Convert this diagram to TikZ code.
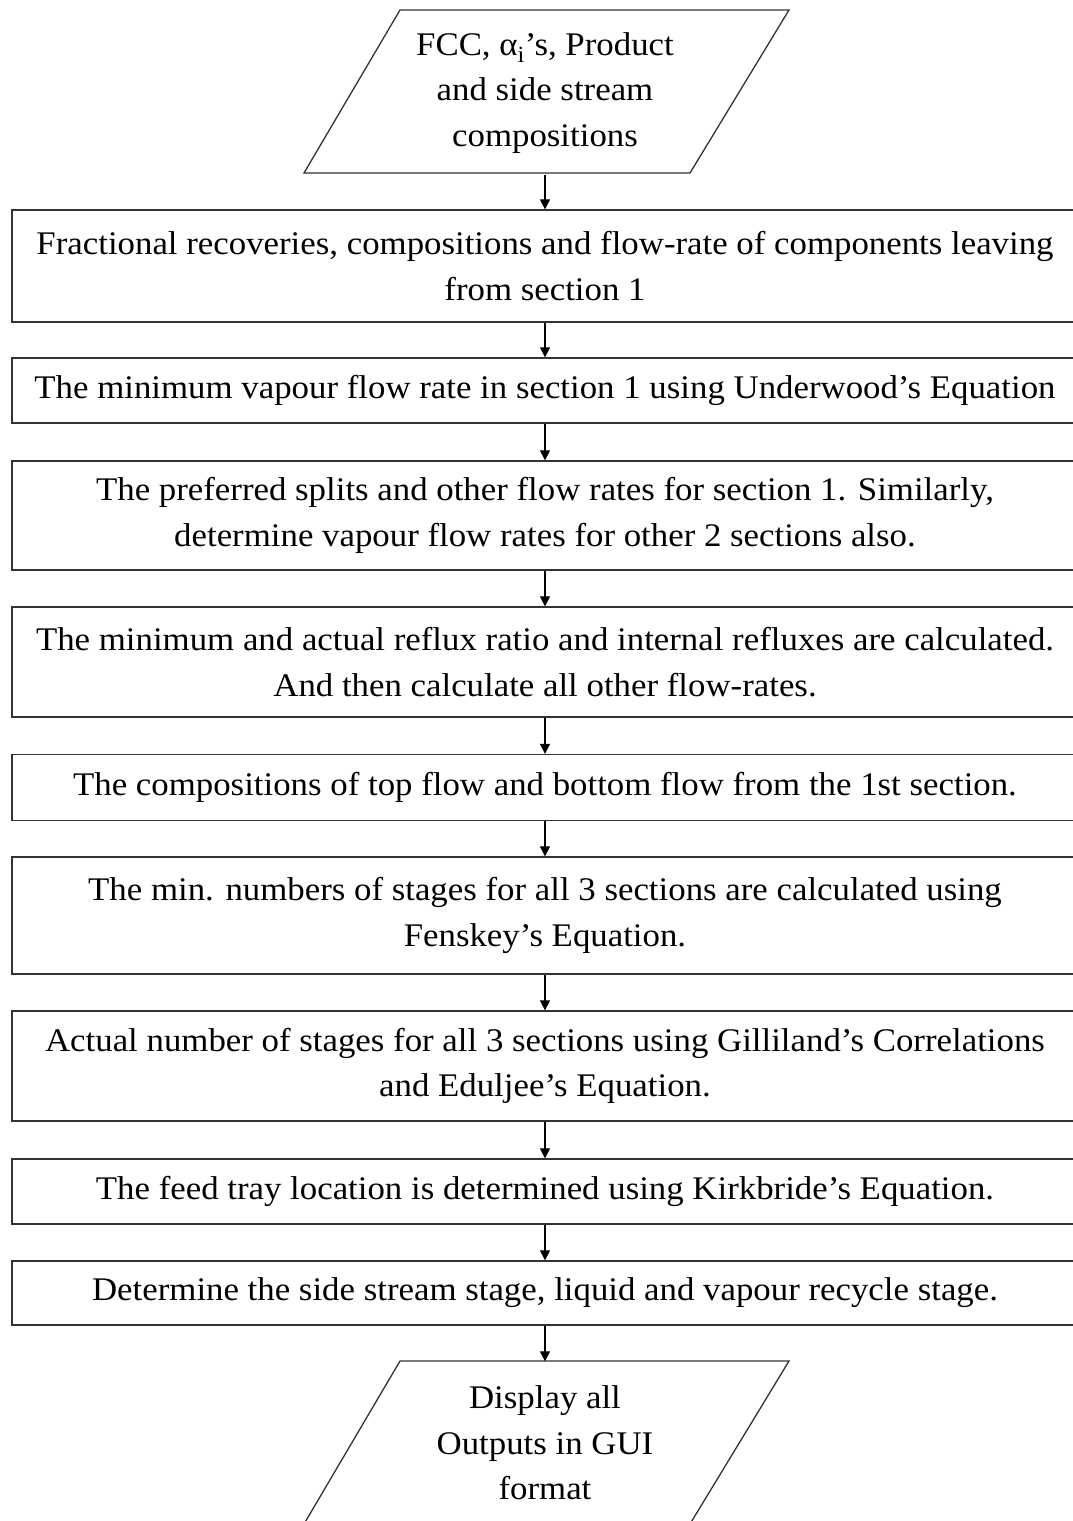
\documentclass[tikz,border=0pt]{standalone}
\usepackage{fontspec}
\setmainfont{Liberation Serif}[FakeStretch=1.055]
\usetikzlibrary{arrows.meta}
\begin{document}
\begin{tikzpicture}[x=1pt,y=-1pt,
  txt/.style={font=\fontsize{33}{45.5}\selectfont, align=center, inner sep=0pt},
  stepbox/.style={txt, draw=black!80, line width=1.3pt, minimum width=1066pt},
  io/.style={txt, minimum width=485pt, minimum height=163pt},
  arr/.style={line width=1.2pt, -{Triangle[length=10pt,width=10pt]}}
]
\useasboundingbox (0,0) rectangle (1073,1521);
% input parallelogram
\node[io] (in) at (545,93) {FCC, α\textsubscript{i}’s, Product\\and side stream\\compositions};
\draw[black!80, line width=1.3pt] (400,10) -- (789,10) -- (690,173) -- (304,173) -- cycle;

\node[stepbox, minimum height=112pt] (b1) at (545,266) {Fractional recoveries, compositions and flow-rate of components leaving\\from section 1};
\node[stepbox, minimum height=65pt] (b2) at (545,390.5) {The minimum vapour flow rate in section 1 using Underwood’s Equation};
\node[stepbox, minimum height=109pt] (b3) at (545,515.5) {The preferred splits and other flow rates for section 1. Similarly,\\determine vapour flow rates for other 2 sections also.};
\node[stepbox, minimum height=110pt] (b4) at (545,662) {The minimum and actual reflux ratio and internal refluxes are calculated.\\And then calculate all other flow-rates.};
\node[stepbox, minimum height=66pt] (b5) at (545,787.5) {The compositions of top flow and bottom flow from the 1st section.};
\node[stepbox, minimum height=117pt] (b6) at (545,915.5) {The min. numbers of stages for all 3 sections are calculated using\\Fenskey’s Equation.};
\node[stepbox, minimum height=110pt] (b7) at (545,1066) {Actual number of stages for all 3 sections using Gilliland’s Correlations\\and Eduljee’s Equation.};
\node[stepbox, minimum height=65pt] (b8) at (545,1191.5) {The feed tray location is determined using Kirkbride’s Equation.};
\node[stepbox, minimum height=64pt] (b9) at (545,1293) {Determine the side stream stage, liquid and vapour recycle stage.};

% output parallelogram
\node[io] (out) at (545,1443) {Display all\\Outputs in GUI\\format};
\draw[black!80, line width=1.3pt] (400,1361) -- (789,1361) -- (690,1524) -- (304,1524) -- cycle;

\draw[arr] (in.south) -- (b1.north);
\draw[arr] (b1.south) -- (b2.north);
\draw[arr] (b2.south) -- (b3.north);
\draw[arr] (b3.south) -- (b4.north);
\draw[arr] (b4.south) -- (b5.north);
\draw[arr] (b5.south) -- (b6.north);
\draw[arr] (b6.south) -- (b7.north);
\draw[arr] (b7.south) -- (b8.north);
\draw[arr] (b8.south) -- (b9.north);
\draw[arr] (b9.south) -- (out.north);
\end{tikzpicture}
\end{document}
